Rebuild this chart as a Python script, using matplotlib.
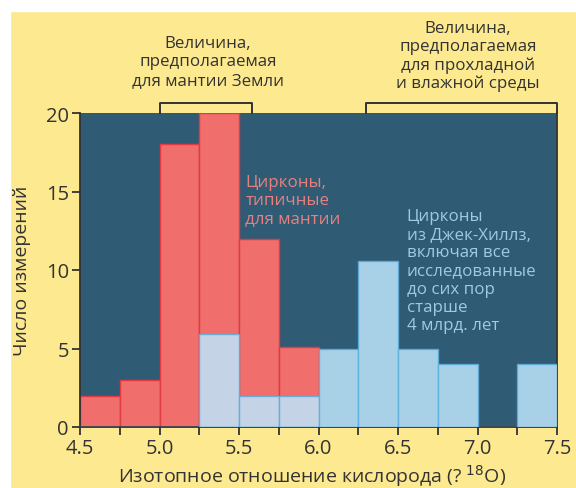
import matplotlib
matplotlib.use("Agg")
import matplotlib.pyplot as plt
from matplotlib.patches import Rectangle
import numpy as np

# Data
bin_edges = [4.5, 4.75, 5.0, 5.25, 5.5, 5.75, 6.0, 6.25, 6.5, 6.75, 7.0, 7.25, 7.5]
mantle_counts = [2, 3, 18, 20, 12, 5.1, 0, 0, 0, 0, 0, 0]
jackhills_counts = [0, 0, 0, 5.9, 2, 2, 5, 10.6, 5, 4, 0, 4]
xtick_labels = ["4.5", "5.0", "5.5", "6.0", "6.5", "7.0", "7.5"]
yticks = [0, 5, 10, 15, 20]

YELLOW = "#fde98f"
DARK = "#2f5b74"
RED = "#f06e6b"
RED_EDGE = "#e03a44"
BLUE = (190/255, 229/255, 252/255)
BLUE_EDGE = "#5aaedc"
TXT = "#333333"

plt.rcParams["font.family"] = ["Open Sans", "DejaVu Sans"]

W, H = 576, 489
fig = plt.figure(figsize=(W/100, H/100), dpi=100, facecolor=YELLOW)
# white margins of the original scan
fig.patches.append(Rectangle((0, 1-12/H), 1, 12/H, transform=fig.transFigure, color="white", zorder=0))
fig.patches.append(Rectangle((0, 0), 10/W, 1, transform=fig.transFigure, color="white", zorder=0))

ax = fig.add_axes([80/W, 1-428/H, (557-80)/W, (428-114)/H])
ax.set_facecolor(DARK)

lefts = np.array(bin_edges[:-1])
widths = np.diff(bin_edges)
ax.bar(lefts, mantle_counts, width=widths, align="edge", color=RED,
       edgecolor=RED_EDGE, linewidth=1.0, zorder=2)
ax.bar(lefts, jackhills_counts, width=widths, align="edge", color=BLUE, alpha=0.855,
       edgecolor=BLUE_EDGE, linewidth=1.0, zorder=3)

ax.set_xlim(4.5, 7.5)
ax.set_ylim(0, 20)
ax.set_xticks(np.arange(4.5, 7.51, 0.5))
ax.set_xticklabels(xtick_labels)
ax.set_xticks(np.arange(4.5, 7.51, 0.25), minor=True)
ax.set_yticks(yticks)
ax.tick_params(axis="both", which="both", direction="out", length=6, width=1.3,
               color=TXT, labelcolor=TXT, labelsize=14.5, pad=2)
for s in ["left", "bottom", "right"]:
    ax.spines[s].set_color(TXT)
    ax.spines[s].set_linewidth(1.3)
ax.spines["top"].set_visible(False)

ax.set_xlabel("Изотопное отношение кислорода (? $^{18}$O)", fontsize=14, color=TXT)
ax.set_ylabel("Число измерений", fontsize=14, color=TXT)
ax.xaxis.set_label_coords(0.486, -0.112)
ax.yaxis.set_label_coords(-0.102, 0.5)

# brackets above the plot
for x0, x1 in [(5.0, 5.58), (6.3, 7.5)]:
    ax.plot([x0, x0, x1, x1], [20, 20.64, 20.64, 20], color=TXT, lw=1.4, clip_on=False, zorder=5)

fig.text(208/W, 1-62.5/H, "Величина,\nпредполагаемая\nдля мантии Земли", ha="center", va="center",
         fontsize=12.2, color=TXT, linespacing=1.18)
fig.text(468/W, 1-56.5/H, "Величина,\nпредполагаемая\nдля прохладной\nи влажной среды", ha="center", va="center",
         fontsize=12.2, color=TXT, linespacing=1.18)

ax.text(5.54, 16.1, "Цирконы,\nтипичные\nдля мантии", ha="left", va="top",
        fontsize=12.2, color="#e88080", linespacing=1.18, zorder=6)
ax.text(6.555, 13.95, "Цирконы\nиз Джек-Хиллз,\nвключая все\nисследованные\nдо сих пор\nстарше\n4 млрд. лет",
        ha="left", va="top", fontsize=12.2, color="#9dcbe3", linespacing=1.18, zorder=6)

fig.savefig("out.png", dpi=100, facecolor=YELLOW)
